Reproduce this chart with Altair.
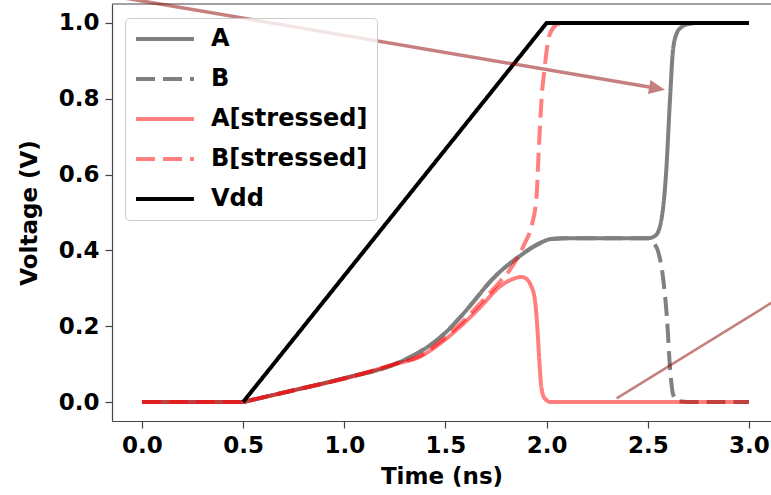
import altair as alt
import pandas as pd

# ---- data -------------------------------------------------------------
SERIES = ["A", "B", "A[stressed]", "B[stressed]", "Vdd"]
COLORS = ["#808080", "#808080", "rgba(255,0,0,0.5)", "rgba(255,0,0,0.5)", "#000000"]
DASHES = [[1, 0], [19, 8], [1, 0], [19, 8], [1, 0]]

A_T = [0.0, 0.5, 0.53, 0.75, 1.0, 1.25, 1.3, 1.375, 1.45, 1.5, 1.575, 1.65, 1.7, 1.77, 1.82,
       1.87, 1.92, 1.97, 2.02, 2.1, 2.5, 2.54, 2.57, 2.59, 2.61, 2.625, 2.645, 2.66, 2.7,
       2.75, 3.0]
A_V = [0.0, 0.0, 0.0038, 0.031, 0.063, 0.100, 0.112, 0.133, 0.160, 0.183, 0.225, 0.272, 0.305,
       0.344, 0.366, 0.386, 0.405, 0.420, 0.430, 0.432, 0.432, 0.44, 0.49, 0.60, 0.80,
       0.93, 0.975, 0.986, 0.997, 1.0, 1.0]

B_T = [0.0, 0.5, 0.53, 0.75, 1.0, 1.25, 1.3, 1.375, 1.45, 1.5, 1.575, 1.65, 1.7, 1.77, 1.82,
       1.87, 1.92, 1.97, 2.02, 2.1, 2.5, 2.53, 2.555, 2.575, 2.595, 2.61, 2.625, 2.645,
       2.7, 3.0]
B_V = [0.0, 0.0, 0.0038, 0.031, 0.063, 0.100, 0.112, 0.133, 0.160, 0.183, 0.225, 0.272, 0.305,
       0.344, 0.366, 0.386, 0.405, 0.420, 0.430, 0.432, 0.432, 0.42, 0.39, 0.33, 0.22,
       0.09, 0.02, 0.003, 0.0, 0.0]

AS_T = [0.0, 0.5, 0.53, 0.75, 1.0, 1.25, 1.375, 1.475, 1.575, 1.675, 1.77, 1.835, 1.875, 1.9,
        1.92, 1.942, 1.955, 1.965, 1.975, 1.99, 2.02, 3.0]
AS_V = [0.0, 0.0, 0.0038, 0.031, 0.062, 0.100, 0.120, 0.155, 0.200, 0.252, 0.305, 0.325, 0.330,
        0.325, 0.31, 0.27, 0.19, 0.10, 0.035, 0.01, 0.0, 0.0]

BS_T = [0.0, 0.5, 0.53, 0.75, 1.0, 1.25, 1.375, 1.475, 1.575, 1.675, 1.77, 1.82, 1.86, 1.893,
        1.926, 1.95, 1.96, 1.975, 1.99, 2.008, 2.03, 2.06, 2.1, 3.0]
BS_V = [0.0, 0.0, 0.0038, 0.031, 0.062, 0.100, 0.122, 0.160, 0.207, 0.262, 0.318, 0.350, 0.384,
        0.420, 0.465, 0.54, 0.65, 0.80, 0.88, 0.955, 0.985, 0.998, 1.0, 1.0]

VDD_T = [0.5, 2.0, 3.0]
VDD_V = [0.0, 1.0, 1.0]

X_DOMAIN = [-0.148, 3.109]
Y_DOMAIN = [-0.05, 1.05]
X_TICKS = [0.0, 0.5, 1.0, 1.5, 2.0, 2.5, 3.0]
Y_TICKS = [0.0, 0.2, 0.4, 0.6, 0.8, 1.0]

# annotation arrows (data coordinates)
ARROW1_X = [-0.21, 2.507]
ARROW1_Y = [1.077, 0.831]
ARROW1_TIP_X = [2.585]
ARROW1_TIP_Y = [0.824]
ARROW2_X = [2.346, 3.2]
ARROW2_Y = [0.0098, 0.291]

# ---- build tables ----------------------------------------------------
rows = []
for name, ts, vs in [("A", A_T, A_V), ("B", B_T, B_V), ("A[stressed]", AS_T, AS_V),
                     ("B[stressed]", BS_T, BS_V), ("Vdd", VDD_T, VDD_V)]:
    for i, (t, v) in enumerate(zip(ts, vs)):
        rows.append({"series": name, "t": t, "v": v, "i": i})
df = pd.DataFrame(rows)

FONT = "DejaVu Sans"

x_enc = alt.X("t:Q", scale=alt.Scale(domain=X_DOMAIN, nice=False, zero=False),
              axis=alt.Axis(values=X_TICKS, format=".1f", title="Time (ns)"))
y_enc = alt.Y("v:Q", scale=alt.Scale(domain=Y_DOMAIN, nice=False, zero=False),
              axis=alt.Axis(values=Y_TICKS, format=".1f", title="Voltage (V)"))
color_enc = alt.Color("series:N", scale=alt.Scale(domain=SERIES, range=COLORS),
                      legend=alt.Legend(title=None))
dash_enc = alt.StrokeDash("series:N", scale=alt.Scale(domain=SERIES, range=DASHES),
                          legend=alt.Legend(title=None))

layers = []
for s in SERIES:
    layers.append(
        alt.Chart(df).transform_filter(alt.datum.series == s)
        .mark_line(strokeWidth=4, interpolate="linear" if s == "Vdd" else "monotone",
                   strokeCap="butt")
        .encode(x=x_enc, y=y_enc, color=color_enc, strokeDash=dash_enc, order="i:Q")
    )

# top spine of the frame
top_df = pd.DataFrame({"v": [Y_DOMAIN[1]]})
top = alt.Chart(top_df).mark_rule(color="#444", strokeWidth=1.2).encode(y="v:Q")

ARROW_COLOR = "#8b0000"
a1 = pd.DataFrame({"t": [ARROW1_X[0]], "v": [ARROW1_Y[0]],
                   "t2": [ARROW1_X[1]], "v2": [ARROW1_Y[1]]})
arrow1 = alt.Chart(a1).mark_rule(color=ARROW_COLOR, opacity=0.5, strokeWidth=3.5,
                                 clip=False).encode(
    x="t:Q", y="v:Q", x2="t2:Q", y2="v2:Q")
tip = pd.DataFrame({"t": ARROW1_TIP_X, "v": ARROW1_TIP_Y})
arrow1_head = alt.Chart(tip).mark_point(
    shape="M0,0L-2,-0.9L-2,0.9Z", size=256, angle=9.6, filled=True,
    color=ARROW_COLOR, opacity=0.5, strokeWidth=0).encode(x="t:Q", y="v:Q")
a2 = pd.DataFrame({"t": [ARROW2_X[0]], "v": [ARROW2_Y[0]],
                   "t2": [ARROW2_X[1]], "v2": [ARROW2_Y[1]]})
arrow2 = alt.Chart(a2).mark_rule(color=ARROW_COLOR, opacity=0.5, strokeWidth=2.5,
                                 clip=False).encode(
    x="t:Q", y="v:Q", x2="t2:Q", y2="v2:Q")

chart = alt.layer(*layers, top, arrow1, arrow1_head, arrow2).properties(
    width=659, height=417,
    padding={"left": 112, "top": 4, "right": 0, "bottom": 74},
    autosize=alt.AutoSizeParams(type="none"),
).configure_view(stroke=None).configure_axis(
    grid=False,
    labelFont=FONT, labelFontWeight="bold", labelFontSize=23, labelColor="black",
    titleFont=FONT, titleFontWeight="bold", titleFontSize=23, titleColor="black",
    domainColor="#444", tickColor="#444", tickSize=7, domainWidth=1.2, tickWidth=1.2,
    labelPadding=6,
).configure_axisX(titlePadding=8).configure_axisY(titlePadding=17).configure_legend(
    orient="none", legendX=13, legendY=14,
    labelFont=FONT, labelFontWeight="bold", labelFontSize=24, labelColor="black",
    symbolType="M-3,0H3", symbolSize=373, symbolStrokeWidth=4,
    symbolOffset=19, labelOffset=34, rowPadding=16, padding=9,
    fillColor="rgba(255,255,255,0.8)", strokeColor="#cccccc", cornerRadius=4,
)

chart.save("out.html", embed_options={"renderer": "svg", "actions": False})
